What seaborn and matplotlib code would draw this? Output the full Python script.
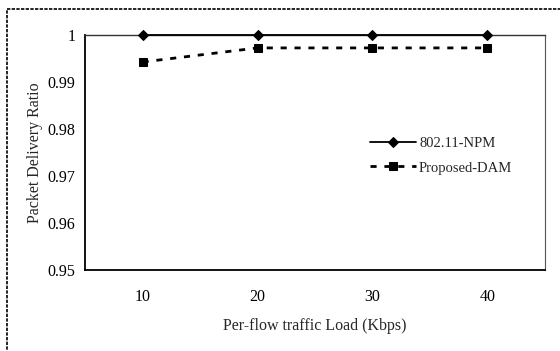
import matplotlib
matplotlib.use("Agg")
import matplotlib.pyplot as plt
import seaborn as sns
import pandas as pd
from matplotlib.patches import Rectangle

loads = ["10", "20", "30", "40"]
npm = [1.0, 1.0, 1.0, 1.0]
dam = [0.9942, 0.9972, 0.9972, 0.9972]
series_names = ["802.11-NPM", "Proposed-DAM"]
yticks = [0.95, 0.96, 0.97, 0.98, 0.99, 1.0]
ytick_labels = ["0.95", "0.96", "0.97", "0.98", "0.99", "1"]

sns.set_style("white")
plt.rcParams['font.family'] = ['Liberation Serif', 'DejaVu Serif']

df = pd.DataFrame({
    "load": loads * 2,
    "ratio": npm + dam,
    "series": [series_names[0]] * 4 + [series_names[1]] * 4,
})

fig = plt.figure(figsize=(5.6, 3.51), dpi=100)
ax = fig.add_axes([0.152, 0.231, 0.821, 0.670])

sns.lineplot(data=df[df.series == series_names[0]], x="load", y="ratio", ax=ax,
             color="black", lw=1.3, marker="D", markersize=5.5, markeredgecolor="black",
             label=series_names[0], clip_on=False, zorder=5)
sns.lineplot(data=df[df.series == series_names[1]], x="load", y="ratio", ax=ax,
             color="black", lw=2.0, marker="s", markersize=6, markeredgecolor="black",
             linestyle=(0, (2.2, 2.8)), label=series_names[1], clip_on=False, zorder=5)

ax.set_xlim(-0.5, 3.5)
ax.set_ylim(0.95, 1.0)
ax.set_yticks(yticks)
ax.set_yticklabels(ytick_labels)
ax.tick_params(axis="both", length=0, labelsize=11.5, colors="black")
ax.tick_params(axis="x", pad=14)
ax.tick_params(axis="y", pad=7)

for s in ["left", "bottom"]:
    ax.spines[s].set_color("black")
    ax.spines[s].set_linewidth(1.3)
ax.spines["top"].set_color("#333333")
ax.spines["top"].set_linewidth(1.0)
ax.spines["right"].set_color("#555555")
ax.spines["right"].set_linewidth(0.8)
ax.spines["right"].set_linestyle((0, (1, 0.6)))

ax.set_xlabel("Per-flow traffic Load (Kbps)", fontsize=11.5)
ax.xaxis.set_label_coords(0.5, -0.205)
ax.set_ylabel("Packet Delivery Ratio", fontsize=11.5)
ax.yaxis.set_label_coords(-0.092, 0.5)

leg = ax.legend(loc="upper left", bbox_to_anchor=(0.59, 0.62), frameon=False,
                fontsize=10.5, handlelength=3.2, handletextpad=0.2, labelspacing=0.75)

fig.patches.append(Rectangle((7 / 560, -0.1), 1.2, 1.1 - 9 / 351, transform=fig.transFigure,
                             fill=False, edgecolor="black", lw=1.2, linestyle=(0, (2, 0.8))))

fig.savefig("out.png", dpi=100)
